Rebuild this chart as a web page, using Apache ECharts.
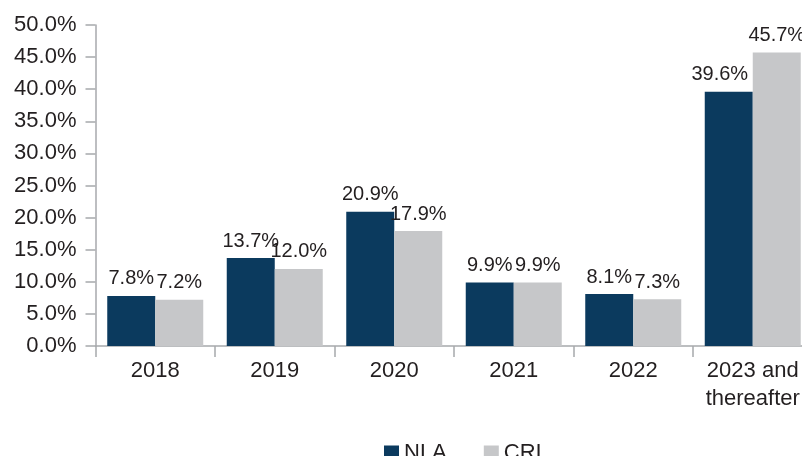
<!DOCTYPE html>
<html>
<head>
<meta charset="utf-8">
<script src="https://cdn.jsdelivr.net/npm/echarts@6/dist/echarts.min.js"></script>
<style>
  html, body { margin: 0; padding: 0; background: #fff; }
  #chart { width: 802px; height: 456px; }
</style>
</head>
<body>
<div id="chart"></div>
<script>
// categories and values
const categories = ['2018', '2019', '2020', '2021', '2022', '2023 and\nthereafter']
const nlaValues = [7.8, 13.7, 20.9, 9.9, 8.1, 39.6]
const criValues = [7.2, 12.0, 17.9, 9.9, 7.3, 45.7]
const yTicks = { min: 0, max: 50, interval: 5 }

const font = '"Liberation Sans", Arial, Helvetica, sans-serif'
const textColor = '#231f20'
const axisColor = '#a7a9ac'

const pct = v => Number(v).toFixed(1) + '%'

const barLabel = {
  show: true,
  position: 'top',
  distance: 7,
  color: textColor,
  fontFamily: font,
  fontSize: 20,
  formatter: p => pct(p.value)
}

// last NLA label sits a little to the left in the original
const nlaData = nlaValues.map((v, i) =>
  i === nlaValues.length - 1 ? { value: v, label: { offset: [-9, 0] } } : v
)

const chart = echarts.init(document.getElementById('chart'), null, { renderer: 'canvas' })

chart.setOption({
  animation: false,
  backgroundColor: '#fff',
  grid: {
    left: 95.5,
    top: 25,
    width: 717,
    height: 321,
    containLabel: false,
    outerBoundsMode: 'none'
  },
  legend: {
    data: ['NLA', 'CRI'],
    left: 384,
    top: 442,
    padding: 0,
    icon: 'rect',
    itemWidth: 15,
    itemHeight: 15,
    itemGap: 37,
    textStyle: { color: textColor, fontFamily: font, fontSize: 22 }
  },
  xAxis: {
    type: 'category',
    data: categories,
    axisLine: { lineStyle: { color: axisColor, width: 1.5 } },
    axisTick: { show: true, length: 11, lineStyle: { color: axisColor, width: 1.5 } },
    axisLabel: {
      color: textColor,
      fontFamily: font,
      fontSize: 22,
      lineHeight: 28,
      margin: 11,
      interval: 0
    }
  },
  yAxis: {
    type: 'value',
    min: yTicks.min,
    max: yTicks.max,
    interval: yTicks.interval,
    axisLine: { show: true, lineStyle: { color: axisColor, width: 1.5 } },
    axisTick: { show: true, length: 10, lineStyle: { color: axisColor, width: 1.5 } },
    splitLine: { show: false },
    axisLabel: {
      color: textColor,
      fontFamily: font,
      fontSize: 22,
      margin: 19,
      formatter: v => pct(v)
    }
  },
  series: [
    {
      name: 'NLA',
      type: 'bar',
      data: nlaData,
      barWidth: 48,
      barGap: '0%',
      itemStyle: { color: '#0b3a5e' },
      label: barLabel
    },
    {
      name: 'CRI',
      type: 'bar',
      data: criValues,
      barWidth: 48,
      barGap: '0%',
      itemStyle: { color: '#c6c7c9' },
      label: barLabel
    }
  ]
})
</script>
</body>
</html>
